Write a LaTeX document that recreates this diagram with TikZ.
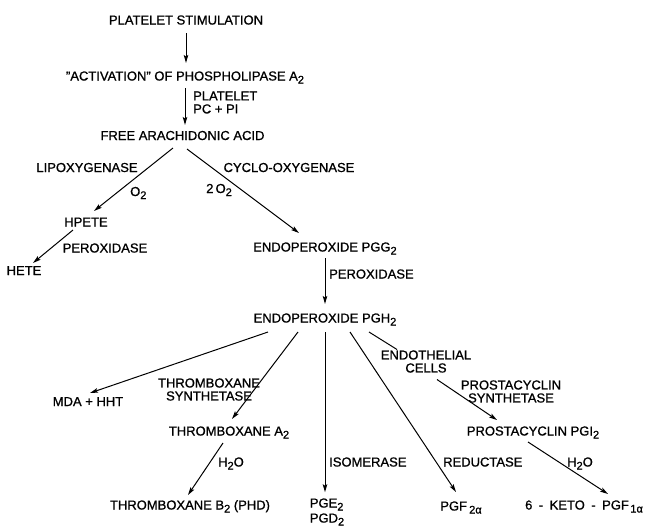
\documentclass[tikz,border=0pt]{standalone}
\usepackage{fontspec}
\setmainfont{Liberation Sans}[FakeBold=1]
\usetikzlibrary{arrows.meta,calc}
\newcommand\lo[1]{\raisebox{-3pt}{\fontsize{11}{11}\selectfont #1}}
\begin{document}
\begin{tikzpicture}[x=1pt,y=-1pt,
  every node/.style={inner sep=0pt,font=\fontsize{13}{13}\selectfont},
  arr/.style={line width=1pt,-{Stealth[length=8pt,width=4.5pt,inset=1.5pt]}},
  seg/.style={line width=1pt}]
\useasboundingbox (0,0) rectangle (649,528);
% nodes
\node[anchor=base] (ps) at (186,24.5) {PLATELET STIMULATION};
\node[anchor=base] (act) at (185,80.5) {"ACTIVATION" OF PHOSPHOLIPASE A\lo{2}};
\node[anchor=west,align=left] (pcpi) at (193,102.5) {PLATELET\\PC + PI};
\node[anchor=base] (faa) at (182.5,140) {FREE ARACHIDONIC ACID};
\node[anchor=base] (lipox) at (87,172) {LIPOXYGENASE};
\node[anchor=base] (cyclo) at (289,172) {CYCLO-OXYGENASE};
\node[anchor=base west] (o2a) at (130,196) {O\lo{2}};
\node[anchor=base west] (o2b) at (206,193) {2\,O\lo{2}};
\node[anchor=base] (hpete) at (86,226.5) {HPETE};
\node[anchor=base] (perox1) at (105,252.5) {PEROXIDASE};
\node[anchor=base] (hete) at (24,275) {HETE};
\node[anchor=base] (pgg) at (325,251.5) {ENDOPEROXIDE PGG\lo{2}};
\node[anchor=base west] (perox2) at (329,278.5) {PEROXIDASE};
\node[anchor=base] (pgh) at (325,322.5) {ENDOPEROXIDE PGH\lo{2}};
\node[anchor=base] (mda) at (88,406) {MDA + HHT};
\node[align=center] (txs) at (209,389.5) {THROMBOXANE\\SYNTHETASE};
\node[align=center] (endo) at (426,361.5) {ENDOTHELIAL\\CELLS};
\node[align=center] (pcs) at (511,391.5) {PROSTACYCLIN\\SYNTHETASE};
\node[anchor=base] (txa) at (229,435.5) {THROMBOXANE A\lo{2}};
\node[anchor=base] (pgi) at (533,435.5) {PROSTACYCLIN PGI\lo{2}};
\node[anchor=base west] (h2oa) at (218,466.5) {H\lo{2}O};
\node[anchor=base west] (isom) at (329,466.5) {ISOMERASE};
\node[anchor=base west] (red) at (443,466.5) {REDUCTASE};
\node[anchor=base west] (h2ob) at (567,466.5) {H\lo{2}O};
\node[anchor=base] (txb) at (190,509.5) {THROMBOXANE B\lo{2} (PHD)};
\node[align=left,font=\fontsize{13}{15}\selectfont] (pge) at (327,512) {PGE\lo{2}\\PGD\lo{2}};
\node[anchor=base] (pgf) at (461,510.5) {PGF\,\lo{2α}};
\node[anchor=base] (keto) at (584,509.5) {6\hspace{6.5pt}-\hspace{6.5pt}KETO\hspace{6.5pt}-\hspace{6.5pt}PGF\hspace{1.5pt}\lo{1α}};
% connectors
\draw[arr] ($(ps.base)+(0,8.5)$) -- ($(act.base)+(1,-17.5)$);
\draw[arr] ($(act.base)+(0,7.5)$) -- ($(faa.base)+(2.5,-15)$);
\draw[arr] ($(faa.base)+(-9.5,8)$) -- ($(hpete.base)+(8,-15.5)$);
\draw[arr] ($(faa.base)+(4.5,9)$) -- ($(pgg.base)+(-26,-18.5)$);
\draw[arr] ($(hpete.base)+(-13,3.5)$) -- ($(hete.base)+(9,-12)$);
\draw[arr] ($(pgg.base)+(0,6.5)$) -- ($(pgh.base)+(0,-18.5)$);
\draw[arr] ($(pgh.base)+(-57,9.5)$) -- ($(mda.base)+(2,-13)$);
\draw[arr] ($(pgh.base)+(-27,9.5)$) -- ($(txa.base)+(3,-16.5)$);
\draw[arr] ($(pgh.base)+(0,9.5)$) -- ($(pge.north)+(-2,-6)$);
\draw[arr] ($(pgh.base)+(25,9.5)$) -- ($(pgf.base)+(-5,-18.5)$);
\draw[seg] ($(pgh.base)+(44,9.5)$) -- ($(endo.center)+(-29,-12)$);
\draw[arr] ($(endo.center)+(11,18)$) -- ($(pgi.base)+(-36,-15.5)$);
\draw[arr] ($(txa.base)+(-6,7.5)$) -- ($(txb.base)+(-2,-14.5)$);
\draw[arr] ($(pgi.base)+(-5,6.5)$) -- ($(keto.base)+(24,-15.5)$);
\end{tikzpicture}
\end{document}
